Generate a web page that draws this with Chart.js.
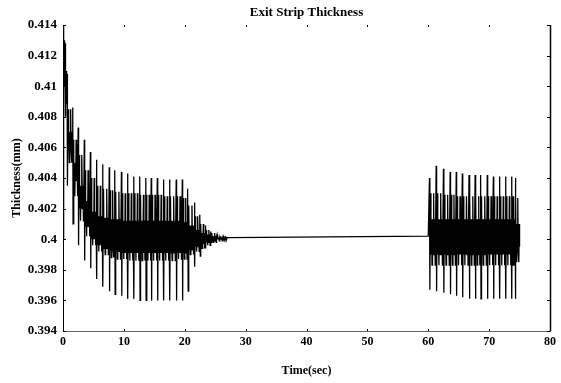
<!DOCTYPE html>
<html>
<head>
<meta charset="utf-8">
<script src="https://cdn.jsdelivr.net/npm/chart.js@4.4.1/dist/chart.umd.min.js"></script>
<style>
  html, body { margin: 0; padding: 0; background: #fff; }
  #wrap { width: 561px; height: 383px; }
</style>
</head>
<body>
<div id="wrap"><canvas id="chart" width="561" height="383"></canvas></div>
<script>
// cycle start times (sec) of the oscillation
const spikeTime = [0.05, 0.35, 0.7, 1.6, 2.5, 3.5, 4.5, 5.5, 6.5, 7.6, 8.5, 9.6, 10.6, 11.6, 12.6, 13.6, 14.5, 15.5, 16.5, 17.5, 18.6, 19.6, 20.5, 21.6, 22.5, 23.4, 24.3, 25.3, 26.3,
                   60.2, 61.3, 62.5, 63.6, 64.6, 65.6, 66.7, 67.7, 68.6, 69.7, 70.7, 71.7, 72.7, 73.7, 74.3];
// big spike top / bottom of each cycle (mm)
const spikeHigh = [0.4140, 0.4128, 0.4108, 0.4086, 0.4073, 0.4065, 0.4057, 0.4052, 0.4049, 0.4047, 0.4045, 0.4044, 0.4043, 0.4041, 0.4041, 0.4040, 0.4040, 0.4040, 0.4039, 0.4039, 0.4039, 0.4039, 0.4033, 0.4024, 0.4016, 0.4009, 0.4005, 0.4003, 0.4002,
                   0.4040, 0.4048, 0.4046, 0.4044, 0.4044, 0.4043, 0.4042, 0.4042, 0.4042, 0.4042, 0.4041, 0.4041, 0.4041, 0.4041, 0.4040];
const spikeLow  = [0.4095, 0.4080, 0.4035, 0.4010, 0.3996, 0.3986, 0.3981, 0.3974, 0.3969, 0.3966, 0.3964, 0.3963, 0.3961, 0.3961, 0.3960, 0.3960, 0.3960, 0.3960, 0.3960, 0.3960, 0.3960, 0.3960, 0.3966, 0.3982, 0.3989, 0.3994, 0.3998, 0.4000, 0.4001,
                   0.3967, 0.3966, 0.3965, 0.3964, 0.3963, 0.3962, 0.3961, 0.3961, 0.3961, 0.3961, 0.3961, 0.3961, 0.3961, 0.3961, 0.3961];
// outer edge of the dense band between the spikes
const bandHigh  = [0.4130, 0.4110, 0.4085, 0.4065, 0.4055, 0.4045, 0.4040, 0.4035, 0.4033, 0.4032, 0.4031, 0.4030, 0.4030, 0.4030, 0.4029, 0.4029, 0.4029, 0.4029, 0.4028, 0.4028, 0.4028, 0.4027, 0.4022, 0.4015, 0.4010, 0.4006, 0.4004, 0.4002, 0.4002,
                   0.4030, 0.4030, 0.4029, 0.4029, 0.4028, 0.4028, 0.4028, 0.4028, 0.4028, 0.4028, 0.4028, 0.4028, 0.4028, 0.4028, 0.4027];
const bandLow   = [0.4100, 0.4088, 0.4050, 0.4028, 0.4012, 0.4002, 0.3996, 0.3992, 0.3990, 0.3988, 0.3987, 0.3987, 0.3986, 0.3986, 0.3986, 0.3986, 0.3986, 0.3986, 0.3986, 0.3986, 0.3987, 0.3987, 0.3990, 0.3992, 0.3994, 0.3996, 0.3998, 0.3999, 0.4000,
                   0.3983, 0.3983, 0.3983, 0.3983, 0.3983, 0.3983, 0.3983, 0.3983, 0.3983, 0.3983, 0.3983, 0.3983, 0.3983, 0.3983, 0.3985];
// darker core of the band
const midHigh   = [0.4120, 0.4100, 0.4070, 0.4050, 0.4035, 0.4025, 0.4018, 0.4015, 0.4014, 0.4013, 0.4013, 0.4012, 0.4012, 0.4012, 0.4012, 0.4012, 0.4012, 0.4012, 0.4012, 0.4012, 0.4012, 0.4011, 0.4009, 0.4006, 0.4004, 0.4003, 0.4002, 0.4001, 0.4001,
                   0.4013, 0.4013, 0.4013, 0.4013, 0.4013, 0.4013, 0.4013, 0.4013, 0.4013, 0.4013, 0.4013, 0.4013, 0.4013, 0.4013, 0.4010];
const midLow    = [0.4105, 0.4092, 0.4058, 0.4038, 0.4020, 0.4008, 0.4000, 0.3996, 0.3994, 0.3993, 0.3992, 0.3991, 0.3991, 0.3991, 0.3991, 0.3991, 0.3991, 0.3991, 0.3991, 0.3991, 0.3991, 0.3991, 0.3993, 0.3995, 0.3997, 0.3998, 0.3999, 0.4000, 0.4000,
                   0.3990, 0.3990, 0.3990, 0.3990, 0.3990, 0.3990, 0.3990, 0.3990, 0.3990, 0.3990, 0.3990, 0.3990, 0.3990, 0.3990, 0.3991];
// steady part between the two bursts
const flatTime  = [27.3, 60.0];
const flatValue = [0.4001, 0.4002];
const endTime = 75.0, endValue = 0.3995;

const xTicks = [0, 10, 20, 30, 40, 50, 60, 70, 80];
const yTicks = [0.394, 0.396, 0.398, 0.4, 0.402, 0.404, 0.406, 0.408, 0.41, 0.412, 0.414];

// order of the levels inside one cycle, with position as a share of the cycle length
const cycleShape = [['h', 0], ['l', 0.06], ['bh', 0.14], ['ml', 0.22], ['mh', 0.30], ['bl', 0.38], ['mh', 0.46], ['ml', 0.54],
                    ['bh', 0.62], ['ml', 0.70], ['mh', 0.78], ['bl', 0.86], ['mh', 0.93]];

const points = [{ x: 0, y: 0.4 }];
spikeTime.forEach((t, i) => {
    if (t >= 60 && spikeTime[i - 1] < 60) {
        flatTime.forEach((ft, j) => points.push({ x: ft, y: flatValue[j] }));
    }
    const next = spikeTime[i + 1];
    const len = next !== undefined && next - t < 2 ? next - t : 0.7;
    const v = { h: spikeHigh[i], l: spikeLow[i], bh: bandHigh[i], bl: bandLow[i], mh: midHigh[i], ml: midLow[i] };
    cycleShape.forEach(([k, f]) => points.push({ x: t + f * len, y: v[k] }));
});
points.push({ x: endTime, y: endValue });

const serif = '"Liberation Serif", "DejaVu Serif", serif';

// inward tick marks and the right-hand frame line (matlab style box)
const frame = {
    id: 'frame',
    afterDraw(chart) {
        const { ctx, chartArea: a, scales } = chart;
        ctx.save();
        ctx.strokeStyle = '#000';
        ctx.lineWidth = 1.5;
        ctx.beginPath();
        ctx.moveTo(a.right + 0.5, a.top);
        ctx.lineTo(a.right + 0.5, a.bottom);
        ctx.stroke();
        ctx.lineWidth = 1;
        ctx.beginPath();
        yTicks.forEach(v => {
            const y = Math.round(scales.y.getPixelForValue(v)) + 0.5;
            ctx.moveTo(a.left, y); ctx.lineTo(a.left + 3, y);
            ctx.moveTo(a.right, y); ctx.lineTo(a.right - 3, y);
        });
        xTicks.forEach(v => {
            const x = Math.round(scales.x.getPixelForValue(v)) + 0.5;
            ctx.moveTo(x, a.top); ctx.lineTo(x, a.top + 2);
            ctx.moveTo(x, a.bottom); ctx.lineTo(x, a.bottom - 2);
        });
        ctx.stroke();
        ctx.restore();
    }
};

new Chart(document.getElementById('chart'), {
    type: 'line',
    data: {
        datasets: [{
            data: points,
            borderColor: '#000',
            borderWidth: 1.3,
            pointRadius: 0,
            tension: 0,
            fill: false
        }]
    },
    options: {
        responsive: false,
        animation: false,
        parsing: false,
        layout: { padding: { left: 0, right: 11, top: 0, bottom: 0 } },
        plugins: { legend: { display: false }, tooltip: { enabled: false } },
        scales: {
            x: {
                type: 'linear', min: 0, max: 80,
                afterBuildTicks: s => { s.ticks = xTicks.map(v => ({ value: v })); },
                afterFit: s => { s.height = 52; },
                grid: { display: false, drawTicks: false },
                border: { display: true, color: '#666', width: 1, dash: [9, 5] },
                ticks: { color: '#000', padding: 4, maxRotation: 0, font: { family: serif, size: 12, weight: 'bold' } },
                title: { display: true, text: 'Time(sec)', color: '#000', padding: { top: 0, bottom: 5 }, font: { family: serif, size: 12, weight: 'bold' } }
            },
            x2: {
                type: 'linear', position: 'top', min: 0, max: 80,
                afterFit: s => { s.height = 25; },
                grid: { display: false, drawTicks: false },
                border: { display: false },
                ticks: { display: false },
                title: { display: true, text: 'Exit Strip Thickness', color: '#000', padding: { top: 5, bottom: 0 }, font: { family: serif, size: 13, weight: 'bold' } }
            },
            y: {
                type: 'linear', min: 0.394, max: 0.414,
                afterBuildTicks: s => { s.ticks = yTicks.map(v => ({ value: v })); },
                afterFit: s => { s.width = 63; },
                grid: { display: false, drawTicks: false },
                border: { display: true, color: '#000', width: 1 },
                ticks: {
                    color: '#000', padding: 6, font: { family: serif, size: 13, weight: 'bold' },
                    callback: v => String(+v.toFixed(3))
                },
                title: { display: true, text: 'Thickness(mm)', color: '#000', padding: { top: 10, bottom: 0 }, font: { family: serif, size: 12, weight: 'bold' } }
            }
        }
    },
    plugins: [frame]
});
</script>
</body>
</html>
